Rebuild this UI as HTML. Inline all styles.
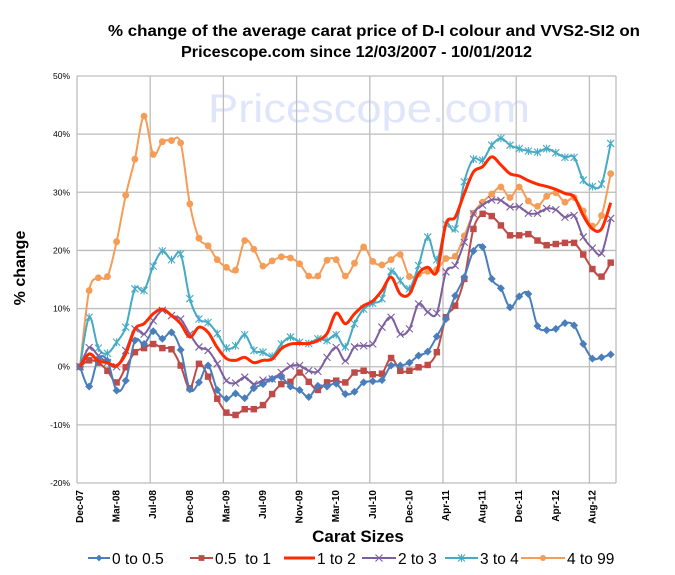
<!DOCTYPE html>
<html><head><meta charset="utf-8"><style>
body{margin:0;background:#fff;}
svg{display:block;font-family:"Liberation Sans",sans-serif;}
</style></head><body>
<svg id="chart" width="675" height="575" xmlns="http://www.w3.org/2000/svg">
<rect width="675" height="575" fill="#fff"/>
<text x="108" y="36" font-size="16" font-weight="bold" textLength="532" lengthAdjust="spacingAndGlyphs">% change of the average carat price of  D-I colour and VVS2-SI2  on</text>
<text x="181" y="57" font-size="16" font-weight="bold" textLength="351" lengthAdjust="spacingAndGlyphs">Pricescope.com since 12/03/2007 - 10/01/2012</text>
<text x="208" y="122" font-size="40" fill="#dfe5fa" textLength="322" lengthAdjust="spacingAndGlyphs">Pricescope.com</text>
<g id="grid"></g>
<g id="series"></g>
<text transform="translate(25,268) rotate(-90)" text-anchor="middle" font-size="16" font-weight="bold">% change</text>
<text x="358" y="542" text-anchor="middle" font-size="17" font-weight="bold">Carat Sizes</text>
<g id="legend"></g>
</svg>
<script>
const categories=["Dec-07","Mar-08","Jul-08","Dec-08","Mar-09","Jul-09","Nov-09","Mar-10","Jul-10","Dec-10","Apr-11","Aug-11","Dec-11","Apr-12","Aug-12"];
const yTicks=[-20,-10,0,10,20,30,40,50];
const seriesNames=["0 to 0.5","0.5  to 1","1 to 2","2 to 3","3 to 4","4 to 99"];
const s0=[0,-3.4,1.4,1,-4.1,-2.4,4.5,3.9,6.1,4.8,5.9,2.9,-3.9,-2.7,0.2,-4,-5.5,-4.6,-5.4,-3.7,-3,-2.1,-1.8,-3.4,-4,-5.2,-3.3,-3.4,-2.9,-4.7,-4.3,-2.7,-2.5,-2.3,0.2,0.2,0.7,1.9,2.6,5.2,8.2,12.2,15.4,19.9,20.6,15.1,13.5,10.2,12.1,12.5,7,6.3,6.5,7.5,7.1,3.9,1.4,1.6,2.1];
const s1=[0,1.1,0.7,-0.7,-2.7,-0.1,2.5,3.2,3.9,3.2,3,0.2,-3.7,0.5,-1.7,-5.5,-7.9,-8.3,-7.3,-7.3,-6.6,-4.7,-3,-2.6,-1,-2.6,-4,-2.7,-2.4,-2.7,-1,-0.7,-1.3,-1.2,1.5,-0.7,-0.7,-0.1,0.3,2.5,8.5,10.5,15.1,23.7,26.3,25.9,24.3,22.6,22.6,22.8,21.7,20.9,21.1,21.3,21.3,19.3,16.8,15.5,17.9];
const s2=[0,2.2,1,0.7,0.2,2.2,6.5,7.4,9.1,9.9,8.8,7.4,5.1,6.8,5.9,3.3,1.4,1.1,1.6,0.7,1.1,1.3,3.1,3.9,4,4,4.5,5.7,9.2,7.4,9.1,10.5,11.3,13.1,15.4,12.5,12.5,16,17.1,16.3,24.6,25.7,29.8,33.5,34.4,36.1,34.7,33.2,32.8,32,31.4,31,30.5,29.8,29.2,26,23.7,23.7,28.2];
const s3=[0,3.3,1.9,0.7,0,2.8,6.5,5.6,7.9,9.7,8.8,8.2,5.6,3.4,2.8,0.5,-2.4,-2.8,-1.8,-3,-2.3,-2.1,-1,0.1,0.2,-0.7,-0.8,1.6,3.3,1,3.4,3.6,3.9,6.8,8.5,5.6,6.5,10.8,9.4,9.2,16.3,17.4,21.4,26.3,27.8,28.7,28.6,27.5,27.5,26.4,26.4,27.2,27,25.7,26,22.3,20.4,19.5,25.5];
const s4=[0,8.5,3.2,2.3,4.2,6.8,13.4,13.1,17.3,19.9,18.4,19.4,11.7,8.2,7.6,5.7,3.2,3.6,5.5,2.8,2.5,1.8,3.9,5.1,4.2,4,4.8,4.5,5.5,3.4,7.4,9.9,10.9,11.7,16.4,14.8,13.4,17.4,22.3,18.4,24.5,23.7,31.8,35.7,35.5,38.1,39.3,38.1,37.5,37.1,36.9,37.5,36.8,36,36,32.1,31,31.4,38.4];
const s5=[0,13.1,15.3,15.5,21.5,29.5,35.7,43.1,36.5,38.7,38.9,38.5,28,22.1,20.8,18.4,17.1,16.6,21.7,20.2,17.3,18.2,18.9,18.7,17.7,15.6,15.6,18.3,18.4,15.6,17.8,20.6,18.1,17.5,18.4,19.3,15.5,15.9,16.4,16.7,18.6,19,22.5,26.4,28.3,29.7,30.9,29.1,30.9,28.5,27.6,29.3,29.9,28.3,29.1,26.8,24.2,26,33.2];
const allSeries=[s0,s1,s2,s3,s4,s5];
const colors=["#4a7ebb","#be4b48","#ff2a00","#7d5fa0","#46aac5","#f59d56"];
const markers=["diamond","square","none","x","star","circle"];
const NS="http://www.w3.org/2000/svg";
const L=77,R=616,T=76,B=483,yMin=-20,yMax=50;
const n=s0.length;
const X0=80,STEP=9.15;
function xs(i){return X0+i*STEP;}
function ys(v){return B-(v-yMin)/(yMax-yMin)*(B-T);}
function mk(tag,attrs,parent){const e=document.createElementNS(NS,tag);for(const k in attrs)e.setAttribute(k,attrs[k]);parent.appendChild(e);return e;}
const grid=document.getElementById('grid');
yTicks.forEach(t=>{
  const ln=mk('line',{x1:L,x2:R,y1:ys(t),y2:ys(t),stroke:'#bdbdbd','stroke-width':1.3},grid);
  
  
  const tx=mk('text',{x:L-7,y:ys(t)+3,'text-anchor':'end','font-size':8.5},grid);
  tx.textContent=t+'%';
  
  
});
for(let k=0;k<=8;k++){
  const gx=L+k*73.2;
  if(gx>R)break;
  const ln=mk('line',{x1:gx,x2:gx,y1:T,y2:B,stroke:'#bdbdbd','stroke-width':1.3},grid);
  
  
}
mk('line',{x1:R,x2:R,y1:T,y2:B,stroke:'#bdbdbd','stroke-width':1.3},grid);
categories.forEach((c,j)=>{
  const x=xs(j*4)+3;
  const tx=mk('text',{transform:`translate(${x},${B+7}) rotate(-90)`,'text-anchor':'end','font-size':10,'font-weight':'bold'},grid);
  tx.textContent=c;
  
  
});
function smooth(pts){
  let d=`M${pts[0][0]},${pts[0][1]}`;
  for(let i=0;i<pts.length-1;i++){
    const p0=pts[i-1]||pts[i],p1=pts[i],p2=pts[i+1],p3=pts[i+2]||p2;
    d+=` C${p1[0]+(p2[0]-p0[0])/6},${p1[1]+(p2[1]-p0[1])/6} ${p2[0]-(p3[0]-p1[0])/6},${p2[1]-(p3[1]-p1[1])/6} ${p2[0]},${p2[1]}`;
  }
  return d;
}
function marker(g,type,x,y,col,size){
  let e;
  if(type==='diamond')e=mk('polygon',{points:`${x},${y-size} ${x+size},${y} ${x},${y+size} ${x-size},${y}`,fill:col},g);
  else if(type==='square')e=mk('rect',{x:x-size*0.85,y:y-size*0.85,width:size*1.7,height:size*1.7,fill:col},g);
  else if(type==='circle')e=mk('circle',{cx:x,cy:y,r:size*0.9,fill:col},g);
  else if(type==='x')e=mk('path',{d:`M${x-3.5},${y-3.5}L${x+3.5},${y+3.5}M${x-3.5},${y+3.5}L${x+3.5},${y-3.5}`,stroke:col,'stroke-width':1.1},g);
  else if(type==='star')e=mk('path',{d:`M${x-3.5},${y-3.5}L${x+3.5},${y+3.5}M${x-3.5},${y+3.5}L${x+3.5},${y-3.5}M${x},${y-4}L${x},${y+4}`,stroke:col,'stroke-width':1.1},g);
  return e;
}
const sg=document.getElementById('series');
const order=[5,4,3,1,0,2];
order.forEach(si=>{
  const data=allSeries[si];
  const g=mk('g',{},sg);
  
  
  const pts=data.map((v,i)=>[xs(i),ys(v)]);
  const p=mk('path',{d:smooth(pts),fill:'none',stroke:colors[si],'stroke-width':si===2?3:2,'stroke-linejoin':'round'},g);
  
  
  if(markers[si]!=='none'){
    pts.forEach(q=>{
      const m=marker(g,markers[si],q[0],q[1],colors[si],si===0?4:3.8);
      
      
    });
  }
});
const lg=document.getElementById('legend');
const legX=[88,190,284,362,445,521];
const legTX=[112,215,317,398,480,567];
seriesNames.forEach((nm,i)=>{
  const g=mk('g',{},lg);
  
  
  mk('line',{x1:legX[i],x2:legTX[i]-2,y1:558,y2:558,stroke:colors[i],'stroke-width':i===2?3:2},g);
  if(markers[i]!=='none')marker(g,markers[i],(legX[i]+legTX[i]-2)/2,558,colors[i],3.4);
  const t=mk('text',{x:legTX[i],y:564,'font-size':15.5},g);
  t.setAttribute('xml:space','preserve');
  t.style.whiteSpace='pre';
  t.textContent=nm;
});
</script>
</body></html>
